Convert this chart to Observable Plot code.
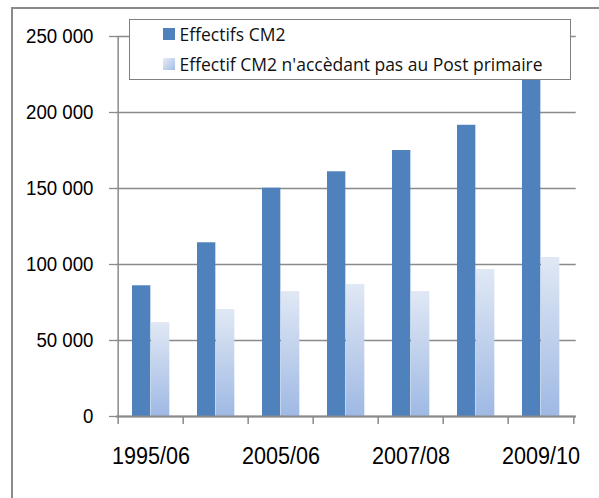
<!DOCTYPE html>
<html><head><meta charset="utf-8">
<script src="https://cdn.jsdelivr.net/npm/d3@7"></script>
<script src="https://cdn.jsdelivr.net/npm/@observablehq/plot@0.6"></script>
<style>
body{margin:0;background:#fff;}
#wrap{position:relative;width:599px;height:498px;overflow:hidden;background:#fff;}
#frame{position:absolute;left:11px;top:7px;width:700px;height:600px;border-left:2px solid #8a8a8a;border-top:2px solid #8a8a8a;}
#chart{position:absolute;left:0;top:0;}
#legend{position:absolute;left:128.5px;top:18.5px;width:440px;height:59px;background:#fff;border:1.5px solid #808080;font-family:"Open Sans",sans-serif;font-size:17.5px;color:#111;}
#legend .row{position:absolute;left:33px;height:20px;display:flex;align-items:center;white-space:nowrap;}
#legend .sw{width:12px;height:12px;margin-right:5px;flex:none;}
</style>
</head><body>
<div id="wrap"><div id="frame"></div><div id="chart"></div><div id="legend"></div></div>
<script>
const categories = ["1995/06","2004/05","2005/06","2006/07","2007/08","2008/09","2009/10"];
const effectifsCM2 = [86000,114300,150200,161000,175000,191600,230000];
const nonAccedants = [61800,70400,82200,86800,82200,96700,104600];
const yTicks = [0,50000,100000,150000,200000,250000];
const shownLabels = ["1995/06","2005/06","2007/08","2009/10"];
const seriesNames = ["Effectifs CM2","Effectif CM2 n'accèdant pas au Post primaire"];

const W = 599, H = 498, mL = 116, mR = 23.3, mT = 36, mB = 82;
const bw = (W - mL - mR) / categories.length;
const dark = "#4f81bd";
const fmt = d => d3.format(",")(d).replace(/,/g, " ");
const data1 = categories.map((c, i) => ({cat: c, v: effectifsCM2[i]}));
const data2 = categories.map((c, i) => ({cat: c, v: nonAccedants[i]}));
const grid = "#8a8a8a";

const svg = Plot.plot({
  width: W, height: H,
  marginLeft: mL, marginRight: mR, marginTop: mT, marginBottom: mB,
  style: {background: "transparent", fontFamily: "'Liberation Sans',Arial,sans-serif", color: "#000"},
  x: {domain: categories, padding: 0, axis: null, label: null},
  y: {domain: [0, 250000], axis: null, label: null},
  marks: [
    Plot.ruleY(yTicks, {stroke: grid, strokeWidth: 1.3}),
    Plot.axisY({ticks: yTicks, label: null, tickSize: 7, tickPadding: 16, tickFormat: fmt, fontSize: 21, stroke: grid, strokeWidth: 1.3, strokeOpacity: 1}),
    Plot.ruleX([categories[0]], {dx: -bw/2, stroke: grid, strokeWidth: 1.5}),
    Plot.barY(data1, {x: "cat", y: "v", fill: dark, insetLeft: 14, insetRight: bw - 33}),
    Plot.barY(data2, {x: "cat", y: "v", fill: "url(#lightGrad)", insetLeft: 33, insetRight: bw - 52}),
    Plot.ruleY([0], {stroke: grid, strokeWidth: 1.8}),
    Plot.axisX({ticks: categories, label: null, tickSize: 8, tickFormat: () => "", dx: -bw/2, stroke: grid, strokeWidth: 1.5, strokeOpacity: 1}),
    Plot.axisX({ticks: [categories[categories.length-1]], label: null, tickSize: 8, tickFormat: () => "", dx: bw/2, stroke: grid, strokeWidth: 1.5, strokeOpacity: 1}),
    Plot.axisX({ticks: shownLabels, label: null, tickSize: 0, tickPadding: 30, fontSize: 24})
  ]
});
const defs = d3.select(svg).insert("defs", ":first-child");
const g = defs.append("linearGradient").attr("id", "lightGrad").attr("x1", 0).attr("y1", 0).attr("x2", 0).attr("y2", 1);
g.append("stop").attr("offset", "0%").attr("stop-color", "#e0e8f4");
g.append("stop").attr("offset", "100%").attr("stop-color", "#9fb9e4");
document.getElementById("chart").appendChild(svg);

// condense axis label glyphs horizontally (the reference uses a narrow face)
function condense(sel, k, anchor) {
  svg.querySelectorAll(sel + " text").forEach(t => {
    if (!t.textContent) return;
    const b = t.getBBox();
    const cx = anchor === "end" ? b.x + b.width : b.x + b.width / 2;
    const cy = b.y + b.height / 2;
    const old = t.getAttribute("transform") || "";
    t.setAttribute("transform", `${old} translate(${cx},${cy}) scale(${k},1) translate(${-cx},${-cy})`);
  });
}
condense("g[aria-label='y-axis tick label']", 0.89, "end");
condense("g[aria-label='x-axis tick label']", 0.9, "middle");

const leg = document.getElementById("legend");
const fills = [dark, "linear-gradient(135deg,#e6ecf6,#a4bde6)"];
seriesNames.forEach((name, i) => {
  const row = document.createElement("div");
  row.className = "row";
  row.style.top = (i === 0 ? 4 : 34.5) + "px";
  const sw = document.createElement("span");
  sw.className = "sw";
  sw.style.background = fills[i];
  const t = document.createElement("span");
  t.textContent = name;
  row.appendChild(sw); row.appendChild(t);
  leg.appendChild(row);
});
</script>
</body></html>
